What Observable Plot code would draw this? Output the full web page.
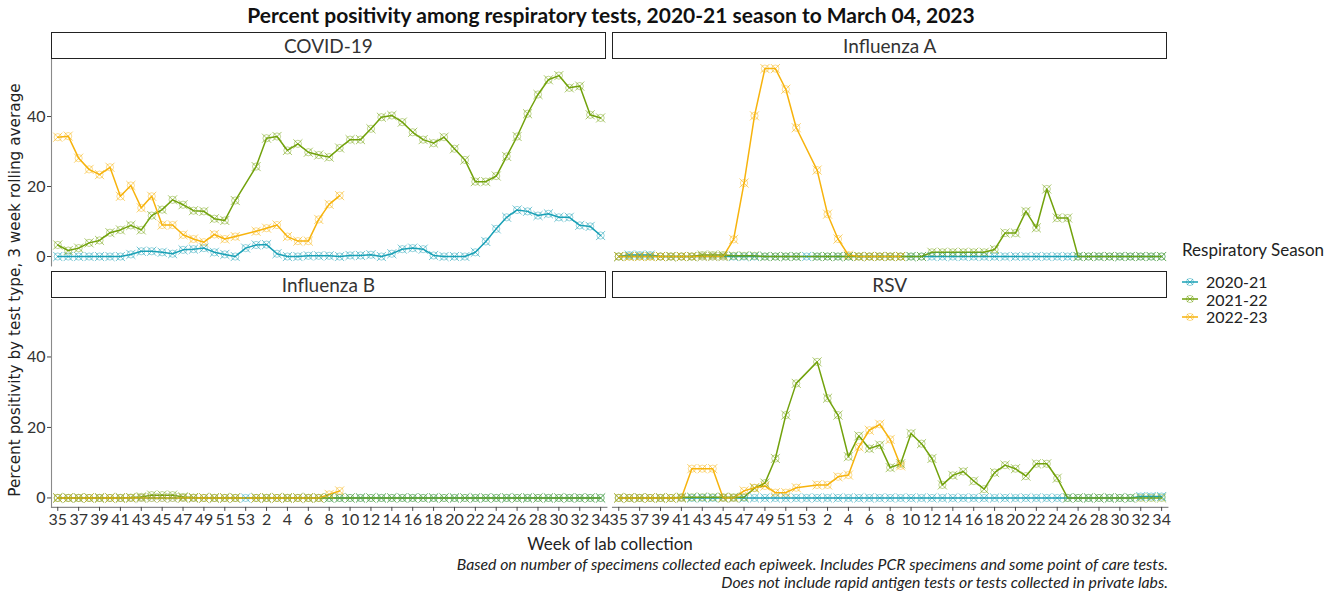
<!DOCTYPE html>
<html><head><meta charset="utf-8">
<script src="https://cdn.jsdelivr.net/npm/d3@7"></script>
<script src="https://cdn.jsdelivr.net/npm/@observablehq/plot@0.6"></script>
<style>
body{margin:0;background:#fff;}
#root{position:relative;width:1328px;height:592px;overflow:hidden;font-family:Lato,"Liberation Sans",sans-serif;color:#222;background:#fff}
.strip{position:absolute;box-sizing:border-box;border:1.3px solid #222;background:#fff;text-align:center;font-size:19px;color:#333;display:flex;align-items:center;justify-content:center}
.title{position:absolute;left:0;width:1222px;top:2px;text-align:center;font-weight:bold;font-size:21px;color:#111}
.ytitle{position:absolute;left:15px;top:290px;transform:translate(-50%,-50%) rotate(-90deg);white-space:nowrap;font-family:"DejaVu Sans",sans-serif;font-size:15.3px;color:#222}
.xtitle{position:absolute;left:0;width:1220px;top:533px;text-align:center;font-size:17px;color:#222}
.caption{position:absolute;right:160px;top:555px;text-align:right;font-style:italic;font-size:15.8px;line-height:17.5px;color:#222}
.legend{position:absolute;left:1182px;top:239px;font-size:17px;color:#222;white-space:nowrap}
.legend .item{display:flex;align-items:center;height:17.5px;font-size:16px}
.legend svg{margin-right:8px}
</style></head><body><div id="root"></div><script>
// ---- data ----
const weeks = ["35","36","37","38","39","40","41","42","43","44","45","46","47","48","49","50","51","52","53",
  "1","2","3","4","5","6","7","8","9","10","11","12","13","14","15","16","17","18","19","20","21","22","23","24","25","26","27","28","29","30","31","32","33","34"];
const tickWeeks = weeks.filter((d, i) => i % 2 === 0);
const seasons = ["2020-21", "2021-22", "2022-23"];
const seasonColors = ["#19a0b6", "#72a20c", "#f7b30d"];
const yTicks = [0, 20, 40];

const covid_2020_21 = [0,0,0,0,0,0,0,0.6,1.5,1.5,1.2,0.8,1.9,2.1,2.4,1.2,0.6,0,2.4,
  3.3,3.4,0.8,0,0,0.2,0.2,0.2,0,0.3,0.3,0.5,0,0.8,2.1,2.4,2.1,0.3,0,0,0,1.2,4.3,7.9,11.2,13.3,12.9,11.7,12.2,11.2,11.2,8.9,8.6,6.0];
const covid_2021_22 = [3.3,1.7,2.4,3.9,4.6,6.8,7.6,8.9,7.6,11.7,13.4,16.2,14.8,13.1,12.9,10.8,10.3,16.0,null,
  25.7,33.8,34.3,30.3,32.2,29.8,29.0,28.4,31.0,33.4,33.4,36.5,39.8,40.3,38.4,35.5,33.4,32.4,34.1,30.8,27.6,21.4,21.4,23.0,28.6,34.3,40.8,46.3,50.5,51.7,48.2,48.7,40.5,39.6];
const covid_2022_23 = [34.1,34.4,28.1,24.9,23.4,25.5,17.2,20.3,13.9,17.2,9.0,9.0,6.2,5.0,4.1,6.3,5.0,5.7,null,
  7.2,8.1,9.0,5.7,4.4,4.4,10.6,14.9,17.4];

const fluA_2020_21 = [0,0.4,0.4,0.4,0,0,0,0,0,0,0,0,0,0,0,0,0,0,0,
  0,0,0,0,0,0,0,0,0,0,0,0,0,0,0,0,0,0,0,0,0,0,0,0,0,0,0,0,0,0,0,0,0,0];
const fluA_2021_22 = [0,0,0,0,0,0,0,0,0.4,0.4,0.4,0.2,0.2,0.2,0,0,0,0,null,
  0,0,0,0,0,0,0,0,0,0,0,1.2,1.2,1.2,1.2,1.2,1.2,2.0,6.7,6.7,12.9,8.2,19.3,11.0,11.0,0,0,0,0,0,0,0,0,0];
const fluA_2022_23 = [0,0,0,0,0,0,0,0,0,0,0,4.9,21.0,40.2,53.7,53.7,47.8,36.8,null,
  24.7,12.1,5.0,0.4,0,0,0,0,0];

const fluB_2020_21 = [0,0,0,0,0,0,0,0,0,0,0,0,0,0,0,0,0,0,0,
  0,0,0,0,0,0,0,0,0,0,0,0,0,0,0,0,0,0,0,0,0,0,0,0,0,0,0,0,0,0,0,0,0,0];
const fluB_2021_22 = [0,0,0,0,0,0,0,0.1,0.3,0.8,0.8,0.8,0.3,0.1,0,0,0,0,null,
  0,0,0,0,0,0,0,0,0,0,0,0,0,0,0,0,0,0,0,0,0,0,0,0,0,0,0,0,0,0,0,0,0,0];
const fluB_2022_23 = [0,0,0,0,0,0,0,0,0,0,0,0,0,0,0,0,0,0,null,
  0,0,0,0,0,0,0,1.0,2.0];

const rsv_2020_21 = [0,0,0,0,0,0,0,0,0,0,0,0,0,0,0,0,0,0,0,
  0,0,0,0,0,0,0,0,0,0,0,0,0,0,0,0,0,0,0,0,0,0,0,0,0,0,0,0,0,0,0,0.4,0.4,0.4];
const rsv_2021_22 = [0,0,0,0,0,0,0.2,0.2,0.2,0.2,0.2,0.2,0.2,2.8,4.2,11.2,23.5,32.5,null,
  38.6,28.3,23.5,11.7,17.6,14.0,15.0,8.6,9.7,18.3,15.4,11.2,3.7,6.4,7.5,4.8,2.5,7.2,9.3,8.3,6.2,9.7,9.7,5.6,0,0,0,0,0,0,0,0,0,0];
const rsv_2022_23 = [0,0,0,0,0,0,0,8.3,8.3,8.3,0,0,2.0,2.9,3.4,1.5,1.5,2.9,null,
  3.7,3.7,6.0,6.5,14.5,19.2,20.9,16.6,9.1];

const panelNames = ["COVID-19", "Influenza A", "Influenza B", "RSV"];
const panelSeries = [
  [covid_2020_21, covid_2021_22, covid_2022_23],
  [fluA_2020_21, fluA_2021_22, fluA_2022_23],
  [fluB_2020_21, fluB_2021_22, fluB_2022_23],
  [rsv_2020_21, rsv_2021_22, rsv_2022_23]
];

// ---- layout ----
const root = document.getElementById("root");
const colLeft = [50.7, 612.0], panelW = 555.4;
const rowTop = [59, 298.5], panelH = [206.4, 207.9], stripH = 27.3;
const mL = 40, mR = 8, mT = 8, mB = 30;

function el(cls, text, style) {
  const d = document.createElement("div");
  d.className = cls; if (text) d.textContent = text;
  Object.assign(d.style, style || {});
  root.appendChild(d); return d;
}

el("title", "Percent positivity among respiratory tests, 2020-21 season to March 04, 2023");

panelNames.forEach((name, p) => {
  const c = p % 2, r = Math.floor(p / 2);
  const rows = panelSeries[p].flatMap((vals, s) =>
    vals.map((v, i) => v == null ? null : {week: weeks[i], value: v, season: seasons[s]}).filter(Boolean));
  const marks = [
    Plot.line(rows, {x: "week", y: "value", z: "season", stroke: "season", strokeWidth: 1.5}),
    Plot.dot(rows, {x: "week", y: "value", stroke: "season", symbol: "circle", r: 3.6, strokeWidth: 1, strokeOpacity: 0.45}),
    Plot.dot(rows, {x: "week", y: "value", stroke: "season", symbol: "times", r: 4.2, strokeWidth: 1, strokeOpacity: 0.6})
  ];
  if (c === 0) {
    marks.unshift(Plot.frame({anchor: "left", stroke: "#8a8a8a", strokeWidth: 1.1}));
    marks.push(Plot.axisY(yTicks, {tickSize: 4, tickPadding: 2, fontSize: 16, stroke: "#444", color: "#333", label: null}));
  }
  if (r === 1) {
    marks.unshift(Plot.frame({anchor: "bottom", stroke: "#8a8a8a", strokeWidth: 1.1}));
    marks.push(Plot.axisX(tickWeeks, {tickSize: 4, tickPadding: 2, fontSize: 16, stroke: "#444", color: "#333", label: null}));
  }
  const chart = Plot.plot({
    width: panelW + mL + mR,
    height: panelH[r] + mT + mB,
    marginLeft: mL, marginRight: mR, marginTop: mT, marginBottom: mB,
    style: {fontFamily: "Lato, sans-serif", background: "transparent", overflow: "visible"},
    x: {type: "point", domain: weeks, padding: 0.6, round: false, axis: null},
    y: {domain: [-2.68, 56.3], axis: null},
    color: {domain: seasons, range: seasonColors},
    marks
  });
  chart.style.position = "absolute";
  chart.style.left = (colLeft[c] - mL) + "px";
  chart.style.top = (rowTop[r] - mT) + "px";
  root.appendChild(chart);
  el("strip", name, {left: (colLeft[c]) + "px", top: (rowTop[r] - stripH) + "px", width: panelW + "px", height: stripH + "px"});
});

el("ytitle", "Percent positivity by test type, 3 week rolling average");
el("xtitle", "Week of lab collection");
const cap = el("caption", "");
cap.innerHTML = "Based on number of specimens collected each epiweek. Includes PCR specimens and some point of care tests.<br>Does not include rapid antigen tests or tests collected in private labs.";

// legend
const lg = el("legend", "");
const lt = document.createElement("div"); lt.textContent = "Respiratory Season"; lt.style.marginBottom = "13px"; lg.appendChild(lt);
seasons.forEach((s, i) => {
  const it = document.createElement("div"); it.className = "item";
  const ns = "http://www.w3.org/2000/svg";
  const svg = document.createElementNS(ns, "svg"); svg.setAttribute("width", 16); svg.setAttribute("height", 12);
  svg.innerHTML = `<line x1="0" x2="16" y1="6" y2="6" stroke="${seasonColors[i]}" stroke-width="1.5"/>
    <circle cx="8" cy="6" r="3.6" fill="none" stroke="${seasonColors[i]}" stroke-opacity="0.45"/>
    <path d="M5,3L11,9M11,3L5,9" stroke="${seasonColors[i]}" stroke-opacity="0.6"/>`;
  it.appendChild(svg);
  const t = document.createElement("span"); t.textContent = s; it.appendChild(t);
  lg.appendChild(it);
});
</script></body></html>
